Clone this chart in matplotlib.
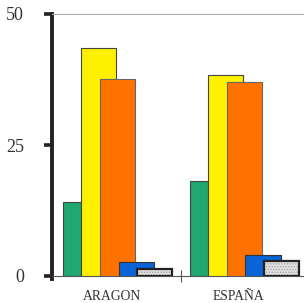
import numpy as np
import matplotlib
matplotlib.use('Agg')
import matplotlib.pyplot as plt

# Data
categories = ['ARAGON', 'ESPAÑA']
green = [14.1, 18.1]
yellow = [43.5, 38.4]
orange = [37.6, 37.0]
blue = [2.7, 4.0]
grey = [1.3, 2.9]
y_ticks = [0, 25, 50]

plt.rcParams['font.family'] = 'Liberation Serif'
plt.rcParams['hatch.linewidth'] = 0.6

fig = plt.figure(figsize=(3.04, 3.03), dpi=100)
ax = fig.add_axes([52 / 304, 27 / 303, 252 / 304, 262 / 303])

x = np.arange(len(categories))
width = 0.276
step = 0.146

series = [
    (green, '#1fa870', '#444444', 0.8),
    (yellow, '#fff000', '#444444', 0.8),
    (orange, '#ff7200', '#666666', 0.8),
    (blue, '#0a64d8', '#333333', 0.8),
]
for j, (vals, fc, ec, lw) in enumerate(series):
    ax.bar(x + (j - 2) * step, vals, width, color=fc, edgecolor=ec,
           linewidth=lw, zorder=2 + j)

# stippled grey bar: light dotted fill, then a dark outline on top
ax.bar(x + 2 * step, grey, width, color='#e2e2e2', edgecolor='#9a9a9a',
       linewidth=0, hatch='......', zorder=6)
ax.bar(x + 2 * step, grey, width, fill=False, edgecolor='#222222',
       linewidth=1.6, zorder=7)

ax.set_xlim(-0.516, 1.469)
ax.set_ylim(0, 50)

# axes styling
ax.spines['right'].set_visible(False)
ax.spines['left'].set_linewidth(2.8)
ax.spines['left'].set_color('#222222')
ax.spines['left'].set_bounds(-0.6, 50)
ax.spines['top'].set_color('#aaaaaa')
ax.spines['top'].set_linewidth(0.8)
ax.spines['bottom'].set_color('#555555')
ax.spines['bottom'].set_linewidth(0.8)
ax.spines['left'].set_clip_on(False)

ax.set_yticks(y_ticks)
ax.tick_params(axis='y', length=6, width=2.6, color='#222222', pad=14,
               labelsize=13, labelcolor='#333333')

ax.set_xticks(x - 0.045)
ax.set_xticklabels(categories)
ax.tick_params(axis='x', length=0, pad=10, labelsize=9.8, labelcolor='#333333')
ax.set_xticks([0.5], minor=True)
ax.tick_params(axis='x', which='minor', length=8, width=0.8, color='#555555',
               direction='inout')

fig.savefig('out.png', dpi=100)
